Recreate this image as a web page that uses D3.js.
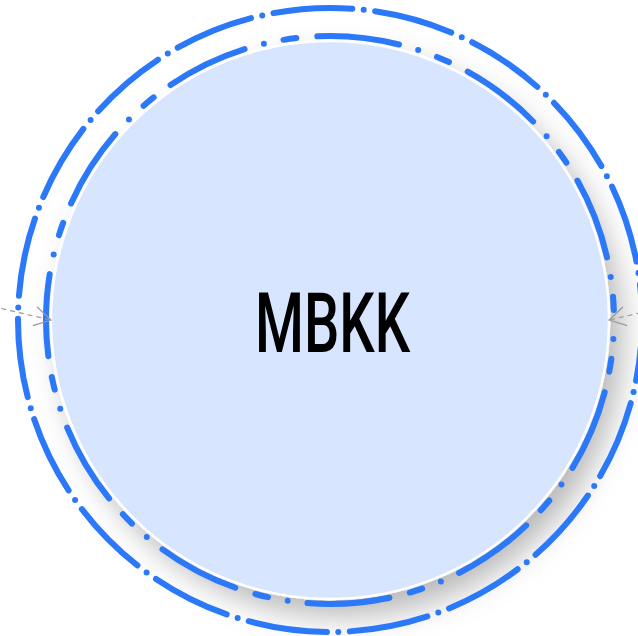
<!DOCTYPE html>
<html>
<head>
<meta charset="utf-8">
<script src="https://cdn.jsdelivr.net/npm/d3@7"></script>
<style>
  html, body { margin: 0; padding: 0; background: #fff; }
  svg { display: block; }
</style>
</head>
<body>
<div id="chart"></div>
<script>
// node + edges
const nodeLabels = ["MBKK"];
const edgeEnds = [180, 0];        // where the incoming edges hit the node (deg)
const edgeFrom = [193, -13];      // direction the edge comes from (deg)

const width = 638, height = 636;
const cx = 330, cy = 320, R = 279;
const blue = "#2b78f8";

const svg = d3.select("#chart").append("svg")
    .attr("width", width)
    .attr("height", height);

const defs = svg.append("defs");
const f = defs.append("filter").attr("id", "shadow")
    .attr("x", "-30%").attr("y", "-30%").attr("width", "160%").attr("height", "160%");
f.append("feDropShadow")
    .attr("dx", 12).attr("dy", 16)
    .attr("stdDeviation", 15)
    .attr("flood-color", "#000")
    .attr("flood-opacity", 0.28);

const g = svg.append("g");

// main circle
g.selectAll("circle.node").data(nodeLabels).join("circle")
    .attr("class", "node")
    .attr("cx", cx).attr("cy", cy).attr("r", R)
    .attr("fill", "#d7e5ff")
    .attr("stroke", "#fff")
    .attr("stroke-width", 2.5)
    .attr("filter", "url(#shadow)");

// dash-dot rings
const rings = [
    { r: R + 5, dash: "0 20 13 21 82.5 20", off: 137.5 },
    { r: R + 33, dash: "0 11.5 79.2 11.5", off: 29.5 }
];
g.selectAll("circle.ring").data(rings).join("circle")
    .attr("class", "ring")
    .attr("cx", cx).attr("cy", cy).attr("r", d => d.r)
    .attr("fill", "none")
    .attr("stroke", blue)
    .attr("stroke-width", 6)
    .attr("stroke-linecap", "round")
    .attr("stroke-dasharray", d => d.dash)
    .attr("stroke-dashoffset", d => d.off);

// incoming edges
const rad = a => a * Math.PI / 180;
const edges = edgeEnds.map((a, i) => {
    const tip = [cx + R * Math.cos(rad(a)), cy + R * Math.sin(rad(a))];
    const b = rad(edgeFrom[i]);
    const len = 60;
    return { tip, b, tail: [tip[0] + len * Math.cos(b), tip[1] + len * Math.sin(b)] };
});
const line = d3.line();
g.selectAll("path.edge").data(edges).join("path")
    .attr("class", "edge")
    .attr("d", d => line([d.tail, d.tip]))
    .attr("fill", "none")
    .attr("stroke", "#9a9a9a")
    .attr("stroke-width", 1.2)
    .attr("stroke-dasharray", "5 4");
g.selectAll("path.head").data(edges).join("path")
    .attr("class", "head")
    .attr("d", d => {
        const h = 19, w = rad(30);
        const p1 = [d.tip[0] + h * Math.cos(d.b - w), d.tip[1] + h * Math.sin(d.b - w)];
        const p2 = [d.tip[0] + h * Math.cos(d.b + w), d.tip[1] + h * Math.sin(d.b + w)];
        return line([p1, d.tip, p2]);
    })
    .attr("fill", "none")
    .attr("stroke", "#9a9a9a")
    .attr("stroke-width", 1.2);

// label
const txt = g.selectAll("text.label").data(nodeLabels).join("text")
    .attr("class", "label")
    .attr("text-anchor", "middle")
    .attr("font-family", "Roboto, 'Noto Sans', sans-serif")
    .attr("font-weight", 500)
    .attr("font-size", 84)
    .attr("fill", "#000")
    .text(d => d);
txt.each(function () {
    const w = this.getComputedTextLength();
    d3.select(this).attr("transform", `translate(332.5,352) scale(${155 / w},1)`);
});
</script>
</body>
</html>
